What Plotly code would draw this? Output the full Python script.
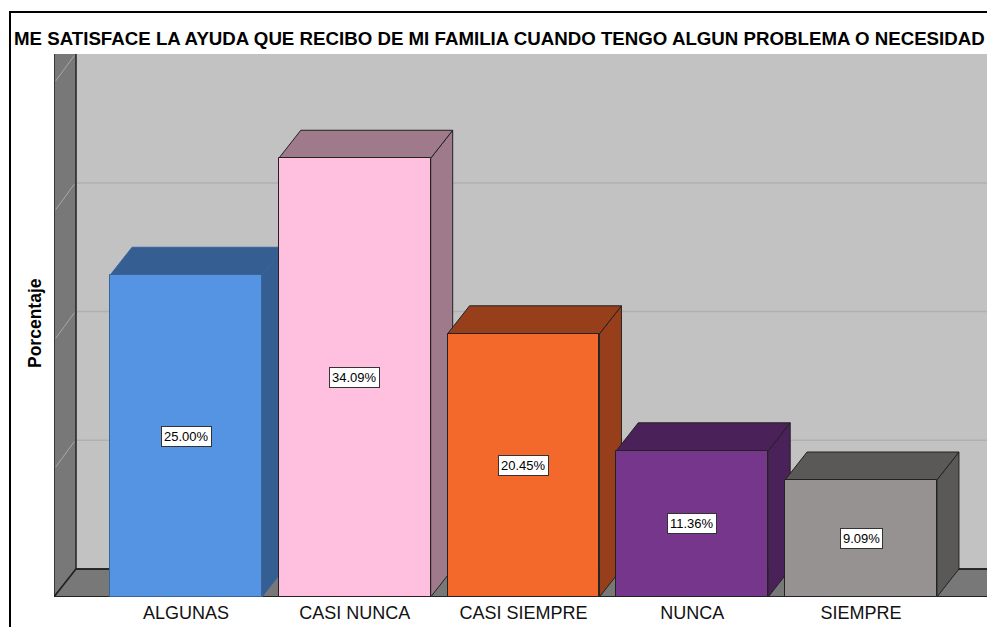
import plotly.graph_objects as go

# ---- data ----
categories = ["ALGUNAS", "CASI NUNCA", "CASI SIEMPRE", "NUNCA", "SIEMPRE"]
percentages = [25.00, 34.09, 20.45, 11.36, 9.09]
front_colors = ["#5594E3", "#FFC0E0", "#F2692B", "#76368C", "#959291"]
side_colors = ["#355E92", "#9E7A8B", "#963F1A", "#4A2158", "#5B5958"]
edge_colors = ["#3A639A", "#222222", "#222222", "#222222", "#222222"]
grid_values = [10, 20, 30, 40]
title_text = "ME SATISFACE LA AYUDA QUE RECIBO DE MI FAMILIA CUANDO TENGO ALGUN PROBLEMA O NECESIDAD"
y_title = "Porcentaje"

# ---- geometry ----
OFF = 8  # page body margin of the browser
W, H = 995 - OFF, 627 - OFF
ML, MT = 54 - OFF, 54 - OFF
MR = 0
MB = H - (597 - OFF)
px_per_cat = 168.75
first_center_px = 186 - OFF
xmin = (ML - first_center_px) / px_per_cat
xmax = (W - MR - first_center_px) / px_per_cat
plot_h = H - MT - MB
plot_w = W - ML - MR
px_per_pct = 12.87
ymax = plot_h / px_per_pct
dx = 22 / px_per_cat
dy = 28 / px_per_pct
bw = 0.9
FAR = xmax + 1

xs = list(range(len(categories)))
FONT = "Liberation Sans, Arial, sans-serif"

fig = go.Figure()
fig.add_trace(go.Bar(
    x=xs, y=percentages, width=bw,
    marker=dict(color=front_colors, line=dict(color=edge_colors, width=1)),
    hoverinfo="skip", showlegend=False,
))

shapes = []
def poly(pts, fill, line="#222222", lw=1):
    path = "M " + " L ".join(f"{x},{y}" for x, y in pts) + " Z"
    shapes.append(dict(type="path", path=path, xref="x", yref="y",
                       fillcolor=fill, line=dict(color=line, width=lw),
                       layer="between"))

def seg(x0, y0, x1, y1, color, lw=1):
    shapes.append(dict(type="line", x0=x0, y0=y0, x1=x1, y1=y1, xref="x", yref="y",
                       line=dict(color=color, width=lw), layer="between"))

# back wall
poly([(xmin + dx, dy), (FAR, dy), (FAR, ymax + 1), (xmin + dx, ymax + 1)], "#C2C2C2", "#C2C2C2", 0)
for g in grid_values[:-1]:
    seg(xmin + dx, g + dy, FAR, g + dy, "#B0B0B0", 1.5)
# left wall
poly([(xmin, 0), (xmin + dx, dy), (xmin + dx, ymax + 1), (xmin, ymax + 1)], "#787878", "#222222", 1.5)
for g in grid_values:
    seg(xmin + 0.01, g + 0.1, xmin + dx - 0.01, g + dy - 0.1, "#A8A8A8", 1)
# floor
poly([(xmin, 0), (FAR, 0), (FAR + dx, dy), (xmin + dx, dy)], "#787878", "#222222", 1.5)
seg(xmin + dx, dy, FAR, dy, "#222222", 1.5)
seg(xmin, 0, FAR, 0, "#222222", 2)

# 3D faces of bars
for i, v in enumerate(percentages):
    xl, xr = xs[i] - bw / 2, xs[i] + bw / 2
    line_c = edge_colors[i]
    poly([(xr, 0), (xr + dx, dy), (xr + dx, v + dy), (xr, v)], side_colors[i], line_c, 1)
    poly([(xl, v), (xl + dx, v + dy), (xr + dx, v + dy), (xr, v)], side_colors[i], line_c, 1)

# outer frame
shapes.append(dict(type="rect", xref="paper", yref="paper",
                   x0=(10 - OFF - ML) / plot_w, x1=1.2,
                   y0=-0.3, y1=(H - MB - (12 - OFF)) / plot_h,
                   line=dict(color="#000000", width=2), layer="above"))

annotations = []
for i, v in enumerate(percentages):
    annotations.append(dict(
        x=xs[i], y=v / 2, xref="x", yref="y", text=f"{v:.2f}%", showarrow=False,
        font=dict(family=FONT, size=13, color="#000000"),
        bgcolor="#FFFFFF", bordercolor="#333333", borderwidth=1, borderpad=2,
    ))
annotations.append(dict(
    x=(35 - OFF - ML) / plot_w, y=(H - MB - (323 - OFF)) / plot_h, xref="paper", yref="paper",
    text=f"<b>{y_title}</b>", textangle=-90, showarrow=False,
    font=dict(family=FONT, size=17.5, color="#000000"),
    xanchor="center", yanchor="middle",
))

fig.update_layout(
    width=W, height=H,
    margin=dict(l=ML, r=MR, t=MT, b=MB, autoexpand=False),
    paper_bgcolor="#FFFFFF", plot_bgcolor="#FFFFFF",
    title=dict(text=f"<b>{title_text}</b>", xref="container", yref="container",
               x=(14 - OFF) / W, xanchor="left", y=1 - (38 - OFF) / H, yanchor="middle",
               font=dict(family=FONT, size=18.7, color="#000000")),
    xaxis=dict(range=[xmin, xmax], tickmode="array", tickvals=xs, ticktext=categories,
               showgrid=False, zeroline=False, showline=False, ticks="",
               ticklabelstandoff=3,
               tickfont=dict(family=FONT, size=18, color="#111111"),
               fixedrange=True),
    yaxis=dict(range=[0, ymax], showgrid=False, zeroline=False, showline=False,
               showticklabels=False, ticks="", fixedrange=True),
    shapes=shapes, annotations=annotations,
    bargap=0, showlegend=False,
)

fig.write_html("out.html")
